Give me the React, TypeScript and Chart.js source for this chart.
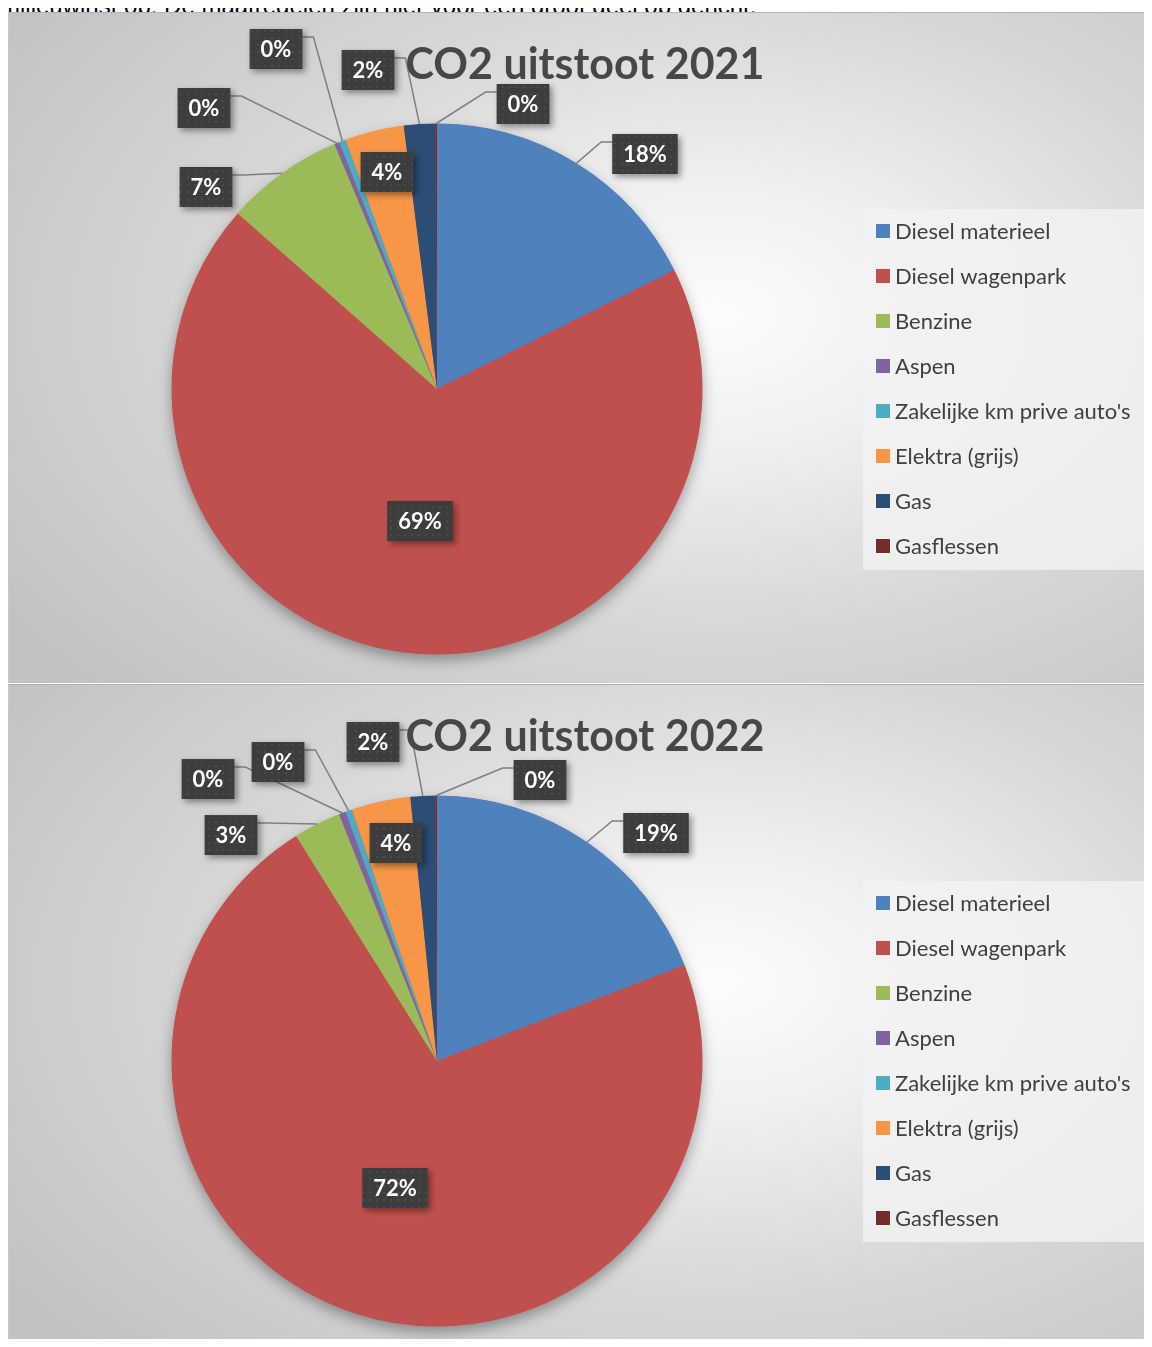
import React, { useEffect, useRef, useState } from "react";
import { Chart, registerables } from "chart.js";
Chart.register(...registerables);

const categories = [
  "Diesel materieel",
  "Diesel wagenpark",
  "Benzine",
  "Aspen",
  "Zakelijke km prive auto's",
  "Elektra (grijs)",
  "Gas",
  "Gasflessen",
];
const sliceColors = ["#4f81bd", "#c0504d", "#9bbb59", "#8064a2", "#4bacc6", "#f79646", "#2c4d75", "#772c2a"];
const values2021 = [17.6, 68.8, 7.2, 0.3, 0.4, 3.6, 1.9, 0.1];
const values2022 = [19.1, 71.9, 2.9, 0.4, 0.4, 3.6, 1.5, 0.1];
const title2021 = "CO2 uitstoot 2021";
const title2022 = "CO2 uitstoot 2022";

// label placement (layout only): offset of each data label from the pie centre
const labelOffsets2021 = [[208, -235], [-17, 132], [-231, -202], [-233, -281], [-161, -340], [-50, -217], [-69, -319], [86, -285]];
const labelOffsets2022 = [[219, -228], [-42, 127], [-206, -226], [-229, -282], [-159, -299], [-41, -218], [-64, -319], [103, -281]];

const introText = "milieuwinst op. De maatregelen zijn hier voor een groot deel op gericht.";

function makePattern(ctx: CanvasRenderingContext2D) {
  const c = document.createElement("canvas");
  c.width = 7;
  c.height = 7;
  const p = c.getContext("2d");
  if (!p) return null;
  p.fillStyle = "#3d3d3d";
  p.fillRect(0, 0, 7, 7);
  p.fillStyle = "#4b4b4b";
  p.fillRect(3, 3, 2, 2);
  return ctx.createPattern(c, "repeat");
}

function PieBox(props: { values: number[]; title: string; offsets: number[][]; height: number; top: number }) {
  const { values, title, offsets, height, top } = props;
  const ref = useRef<HTMLCanvasElement>(null);
  const [err, setErr] = useState("");
  useEffect(() => {
    let chart: any = null;
    try {
      const canvas = ref.current as HTMLCanvasElement;
      const decor = {
        id: "decor",
        beforeDatasetsDraw(ch: any) {
          const ctx = ch.ctx as CanvasRenderingContext2D;
          const arc = ch.getDatasetMeta(0).data[0] as any;
          if (!arc) return;
          ctx.save();
          ctx.shadowColor = "rgba(0,0,0,0.35)";
          ctx.shadowBlur = 14;
          ctx.shadowOffsetY = 6;
          ctx.fillStyle = sliceColors[1];
          ctx.beginPath();
          ctx.arc(arc.x, arc.y, arc.outerRadius - 0.5, 0, Math.PI * 2);
          ctx.fill();
          ctx.restore();
        },
        afterDatasetsDraw(ch: any) {
          const ctx = ch.ctx as CanvasRenderingContext2D;
          const meta = ch.getDatasetMeta(0);
          const total = values.reduce((a, b) => a + b, 0);
          const a0 = meta.data[0] as any;
          if (!a0) return;
          const cx = a0.x, cy = a0.y, r = a0.outerRadius;
          const pattern = makePattern(ctx);
          ctx.save();
          ctx.font = "bold 22px Lato";
          const boxes = values.map((v, i) => {
            const text = Math.round((v / total) * 100) + "%";
            const w = ctx.measureText(text).width + 22;
            const h = 40;
            const lx = cx + offsets[i][0];
            const ly = cy + offsets[i][1];
            return { text, w, h, lx, ly, bx: lx - w / 2, by: ly - h / 2 };
          });
          ctx.strokeStyle = "#7f7f7f";
          ctx.lineWidth = 1.5;
          meta.data.forEach((el: any, i: number) => {
            const b = boxes[i];
            if (Math.hypot(offsets[i][0], offsets[i][1]) <= r) return;
            const mid = (el.startAngle + el.endAngle) / 2;
            const ax = cx + Math.cos(mid) * r;
            const ay = cy + Math.sin(mid) * r;
            const right = ax > b.lx;
            const sx = right ? b.bx + b.w : b.bx;
            const sy = b.by + 8;
            const ex = right ? sx + 11 : sx - 11;
            ctx.beginPath();
            ctx.moveTo(sx, sy);
            ctx.lineTo(ex, sy);
            ctx.lineTo(ax, ay);
            ctx.stroke();
          });
          boxes.forEach((b) => {
            ctx.save();
            ctx.shadowColor = "rgba(0,0,0,0.4)";
            ctx.shadowBlur = 6;
            ctx.shadowOffsetX = 3;
            ctx.shadowOffsetY = 3;
            ctx.fillStyle = pattern || "#3d3d3d";
            ctx.fillRect(b.bx, b.by, b.w, b.h);
            ctx.restore();
            ctx.fillStyle = "#ffffff";
            ctx.textAlign = "center";
            ctx.textBaseline = "middle";
            ctx.fillText(b.text, b.lx, b.ly + 1);
          });
          ctx.restore();
        },
        afterDraw(ch: any) {
          const ctx = ch.ctx as CanvasRenderingContext2D;
          ctx.save();
          ctx.fillStyle = "#474747";
          ctx.font = "bold 43px Lato";
          ctx.textAlign = "center";
          ctx.textBaseline = "middle";
          ctx.fillText(title, 576, 52);
          ctx.fillStyle = "rgba(243,243,243,0.8)";
          ctx.fillRect(854, 196, 283, 361);
          ctx.font = "22px Lato";
          ctx.textAlign = "left";
          ctx.textBaseline = "middle";
          categories.forEach((c, i) => {
            const y = 218 + i * 45;
            ctx.fillStyle = sliceColors[i];
            ctx.fillRect(867, y - 7, 14, 14);
            ctx.fillStyle = "#404040";
            ctx.fillText(c, 886, y + 1);
          });
          ctx.restore();
        },
      };
      chart = new Chart(canvas, {
        type: "pie",
        data: {
          labels: categories,
          datasets: [{ data: values, backgroundColor: sliceColors, borderWidth: 0 }],
        },
        options: {
          responsive: false,
          animation: false,
          layout: { padding: { left: 162.5, right: 449.5, top: 110.5, bottom: height - 641.5 } },
          plugins: { legend: { display: false }, tooltip: { enabled: false }, title: { display: false } },
        },
        plugins: [decor],
      } as any);
    } catch (e: any) {
      setErr(String(e && e.stack ? e.stack : e));
    }
    return () => {
      if (chart) chart.destroy();
    };
  }, [values, title, offsets, height]);
  return (
    <div
      style={{
        position: "absolute",
        left: 0,
        top,
        width: 1143,
        height,
        borderTop: "1px solid #b4b4b4",
        borderLeft: "1px solid #c8c8c8",
        background: "radial-gradient(ellipse 75% 80% at 62% 45%, #fcfcfc 0%, #efefef 25%, #d6d6d6 60%, #c2c2c2 100%)",
      }}
    >
      <canvas ref={ref} width={1143} height={height} style={{ display: "block", width: 1143, height }} />
      {err ? <pre style={{ position: "absolute", top: 0, left: 0, color: "red", fontSize: 12 }}>{err}</pre> : null}
    </div>
  );
}

export default function App() {
  return (
    <div style={{ position: "relative", height: 1331 }}>
      <div
        style={{
          position: "absolute",
          left: -8,
          top: -14,
          font: '24px "Liberation Sans", Arial, sans-serif',
          color: "#000",
          whiteSpace: "nowrap",
          lineHeight: "24px",
        }}
      >
        {introText}
      </div>
      <PieBox values={values2021} title={title2021} offsets={labelOffsets2021} height={670} top={4} />
      <PieBox values={values2022} title={title2022} offsets={labelOffsets2022} height={662} top={676} />
    </div>
  );
}
